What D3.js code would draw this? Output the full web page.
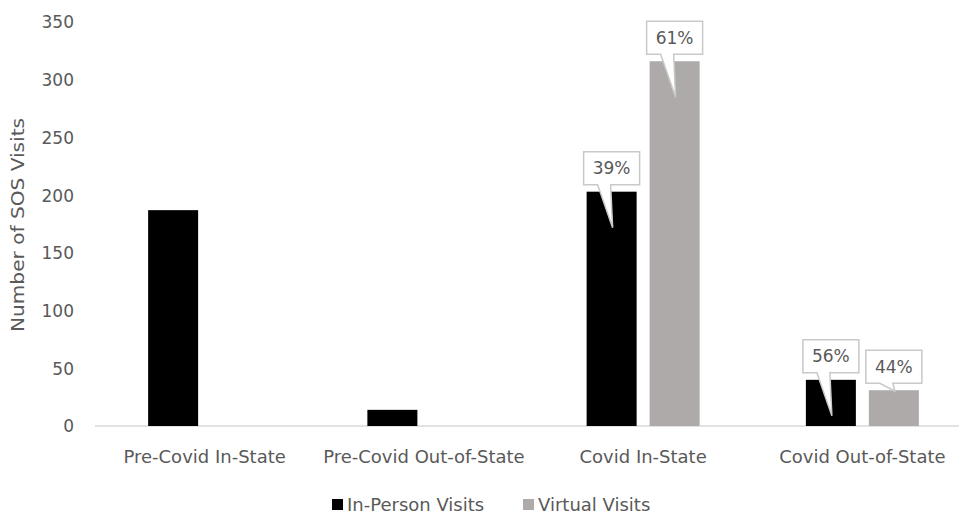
<!DOCTYPE html>
<html>
<head>
<meta charset="utf-8">
<script src="https://cdn.jsdelivr.net/npm/d3@7"></script>
<style>
  body { margin: 0; background: #fff; }
  svg { display: block; }
  text { font-family: "DejaVu Sans", "Noto Sans", sans-serif; fill: #595959; }
</style>
</head>
<body>
<svg id="chart" width="959" height="514"></svg>
<script>
// data
var categories = ['Pre-Covid In-State', 'Pre-Covid Out-of-State', 'Covid In-State', 'Covid Out-of-State'];
var seriesNames = ['In-Person Visits', 'Virtual Visits'];
var inPerson = [187, 14, 203, 40];
var virtual = [0, 0, 316, 31];
var inPersonLabels = [null, null, '39%', '56%'];
var virtualLabels = [null, null, '61%', '44%'];
var yTicks = [0, 50, 100, 150, 200, 250, 300, 350];
var colors = ['#000000', '#aeaaaa'];

var svg = d3.select('#chart');

var margin = {left: 95, right: -13, top: 22, bottom: 88};
var W = 959, H = 514;

var x = d3.scaleBand()
    .domain(categories)
    .range([margin.left, W - margin.right])
    .paddingInner(0)
    .paddingOuter(0);

var y = d3.scaleLinear()
    .domain([0, 350])
    .range([H - margin.bottom, margin.top]);

var barW = 50, gap = 13;
var groupW = barW * 2 + gap;

// bar rows
var rows = [];
categories.forEach(function (c, i) {
    rows.push({cat: c, s: 0, v: inPerson[i], label: inPersonLabels[i]});
    rows.push({cat: c, s: 1, v: virtual[i], label: virtualLabels[i]});
});

function barX(d) {
    return x(d.cat) + (x.bandwidth() - groupW) / 2 + d.s * (barW + gap);
}

// y axis
var yAxis = d3.axisLeft(y).tickValues(yTicks).tickSize(0).tickPadding(0);
svg.append('g')
    .attr('transform', 'translate(74,0)')
    .call(yAxis)
    .call(function (g) { g.select('.domain').remove(); })
    .selectAll('text')
        .style('font-family', 'DejaVu Sans')
        .style('font-size', '17px')
        .attr('dy', '0.35em');

// baseline
svg.append('line')
    .attr('x1', margin.left).attr('x2', W)
    .attr('y1', y(0)).attr('y2', y(0))
    .attr('stroke', '#d9d9d9').attr('stroke-width', 1.5);

// x labels
svg.append('g').selectAll('text')
    .data(categories)
    .enter().append('text')
        .attr('x', function (d) { return x(d) + x.bandwidth() / 2; })
        .attr('y', y(0) + 37)
        .attr('text-anchor', 'middle')
        .style('font-size', '18px')
        .text(function (d) { return d; });

// bars
svg.append('g').selectAll('rect')
    .data(rows.filter(function (d) { return d.v > 0; }))
    .enter().append('rect')
        .attr('x', barX)
        .attr('y', function (d) { return y(d.v); })
        .attr('width', barW)
        .attr('height', function (d) { return y(0) - y(d.v); })
        .attr('fill', function (d) { return colors[d.s]; });

// callouts
var boxW = 56, boxH = 33;
var callouts = svg.append('g').selectAll('g')
    .data(rows.filter(function (d) { return d.label; }))
    .enter().append('g');

callouts.append('path')
    .attr('d', function (d) {
        var cx = barX(d) + barW / 2,
            top = y(d.v),
            h = y(0) - top,
            bb = top - 7,
            bt = bb - boxH,
            tip = top + (h > 45 ? 36 : 1);
        return 'M' + (cx - boxW / 2) + ',' + bt +
            'H' + (cx + boxW / 2) +
            'V' + bb +
            'H' + (cx - 1) +
            'L' + (cx + 1) + ',' + tip +
            'L' + (cx - 14) + ',' + bb +
            'H' + (cx - boxW / 2) + 'Z';
    })
    .attr('fill', '#fff')
    .attr('stroke', '#c9c9c9')
    .attr('stroke-width', 1.5);

callouts.append('text')
    .attr('x', function (d) { return barX(d) + barW / 2; })
    .attr('y', function (d) { return y(d.v) - 7 - boxH / 2; })
    .attr('dy', '0.35em')
    .attr('text-anchor', 'middle')
    .style('font-size', '17px')
    .text(function (d) { return d.label; });

// y title
svg.append('text')
    .attr('transform', 'translate(18,' + 225 + ') rotate(-90)')
    .attr('text-anchor', 'middle')
    .attr('dy', '0.35em')
    .style('font-size', '18px')
    .attr('textLength', 214)
    .attr('lengthAdjust', 'spacingAndGlyphs')
    .text('Number of SOS Visits');

// legend
var legend = svg.append('g').attr('transform', 'translate(332,505)');
var items = legend.selectAll('g')
    .data(seriesNames)
    .enter().append('g')
        .attr('transform', function (d, i) { return 'translate(' + (i * 191) + ',0)'; });
items.append('rect')
    .attr('x', 0).attr('y', -6)
    .attr('width', 11).attr('height', 11)
    .attr('fill', function (d, i) { return colors[i]; });
items.append('text')
    .attr('x', 15)
    .attr('dy', '0.35em')
    .style('font-size', '18px')
    .text(function (d) { return d; });
</script>
</body>
</html>
